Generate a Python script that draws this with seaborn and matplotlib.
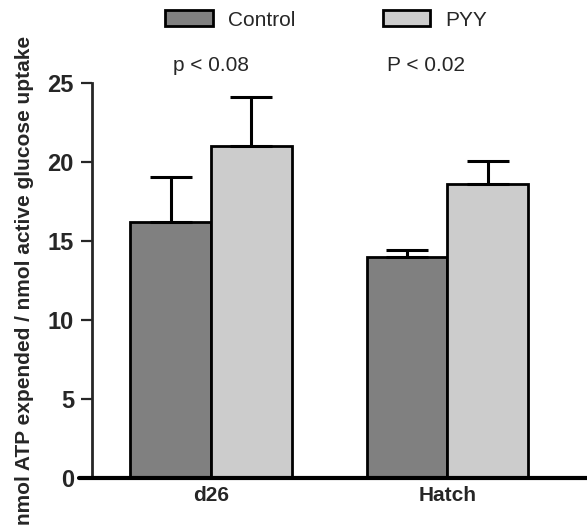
import pandas as pd
import seaborn as sns
import matplotlib.pyplot as plt

# data
stages = ["d26", "Hatch"]
groups = ["Control", "PYY"]
control_mean = [16.2, 14.0]
control_err = [2.85, 0.45]
pyy_mean = [21.0, 18.6]
pyy_err = [3.1, 1.45]
p_labels = ["p < 0.08", "P < 0.02"]

df = pd.DataFrame({
    "stage": stages * 2,
    "group": [groups[0]] * 2 + [groups[1]] * 2,
    "value": control_mean + pyy_mean,
    "err": control_err + pyy_err,
})

sns.set_style("white")
plt.rcParams["font.family"] = ["Liberation Sans", "DejaVu Sans"]

fig = plt.figure(figsize=(5.87, 5.27), dpi=100)
ax = fig.add_axes([92 / 587, 49 / 527, 1 - 92 / 587, (478 - 83) / 527])

sns.barplot(data=df, x="stage", y="value", hue="group", order=stages,
            hue_order=groups, palette=["#808080", "#cccccc"], width=0.684,
            errorbar=None, edgecolor="black", linewidth=2, saturation=1,
            legend=False, ax=ax)

# upward-only error bars, placed on the drawn bars
for bar, (_, row) in zip(ax.patches, df.iterrows()):
    x = bar.get_x() + bar.get_width() / 2
    h = bar.get_height()
    ax.errorbar(x, h, yerr=[[0], [row["err"]]], fmt="none", ecolor="black",
                elinewidth=2.2, capsize=15, capthick=2.2, zorder=1)

ax.set_ylim(0, 25)
ax.set_xlim(-0.503, 1.59)
ax.set_yticks([0, 5, 10, 15, 20, 25])
ax.set_xlabel("")
ax.set_ylabel("nmol ATP expended / nmol active glucose uptake",
              fontsize=15, fontweight="bold", labelpad=10)
ax.tick_params(axis="y", length=8, width=1.6, pad=5, labelsize=17, direction="out", left=True)
ax.tick_params(axis="x", length=0, pad=6, labelsize=15)
for lab in ax.get_yticklabels() + ax.get_xticklabels():
    lab.set_fontweight("bold")

sns.despine(ax=ax, top=True, right=True)
ax.spines["left"].set_linewidth(2)
ax.spines["bottom"].set_visible(False)
ax.axhline(0, xmin=-13 / 495, xmax=1, color="black", lw=3, clip_on=False, zorder=5)

# p-values above the groups
ax.text(0, 26.1, p_labels[0], ha="center", va="center", fontsize=15, clip_on=False)
ax.text(0.91, 26.1, p_labels[1], ha="center", va="center", fontsize=15, clip_on=False)

# legend
handles = [plt.Rectangle((0, 0), 1, 1, facecolor=c, edgecolor="black", linewidth=2)
           for c in ["#808080", "#cccccc"]]
fig.legend(handles, groups, loc="center", bbox_to_anchor=(326 / 587, 1 - 20 / 527),
           ncol=2, frameon=False, fontsize=15, handlelength=2.3, handleheight=0.8,
           handletextpad=0.7, columnspacing=4.2)

fig.savefig("out.png", dpi=100)
